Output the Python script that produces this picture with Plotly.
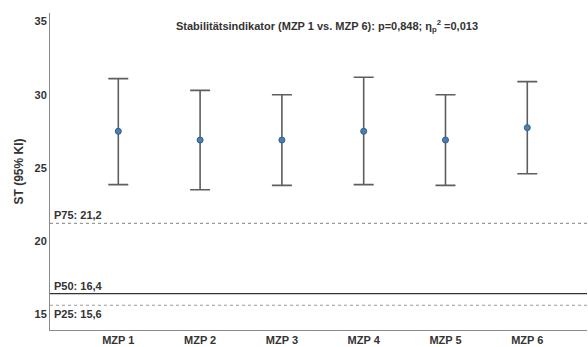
import plotly.graph_objects as go

categories = ["MZP 1", "MZP 2", "MZP 3", "MZP 4", "MZP 5", "MZP 6"]
means = [27.5, 26.9, 26.9, 27.5, 26.9, 27.75]
upper = [31.1, 30.3, 30.0, 31.2, 30.0, 30.9]
lower = [23.85, 23.5, 23.8, 23.85, 23.8, 24.6]

ref_labels = ["P75: 21,2", "P50: 16,4", "P25: 15,6"]
ref_values = [21.2, 16.4, 15.6]
ref_dash = ["dot", "solid", "dot"]
ref_color = ["#9a9a9a", "#333333", "#9a9a9a"]
ref_label_pos = ["above", "above", "below"]

title = "Stabilitätsindikator (MZP 1 vs. MZP 6): p=0,848; η<sub>p</sub><sup>2</sup> =0,013"
y_ticks = [15, 20, 25, 30, 35]

err_plus = [u - m for u, m in zip(upper, means)]
err_minus = [m - l for m, l in zip(means, lower)]

font = "Liberation Sans, Arial, sans-serif"

fig = go.Figure()
fig.add_trace(go.Scatter(
    x=list(range(len(categories))), y=means, mode="markers",
    marker=dict(size=6, color="#4a7fb5", line=dict(color="#2f5d8a", width=1)),
    error_y=dict(type="data", symmetric=False, array=err_plus, arrayminus=err_minus,
                 color="#5e5e5e", thickness=1.6, width=10),
    showlegend=False,
))

for lab, v, d, c, pos in zip(ref_labels, ref_values, ref_dash, ref_color, ref_label_pos):
    fig.add_shape(type="line", xref="paper", x0=0, x1=1, yref="y", y0=v, y1=v,
                  line=dict(color=c, width=1.2 if d == "solid" else 1.1, dash=d))
    fig.add_annotation(xref="paper", x=0, xanchor="left", xshift=2, yref="y", y=v,
                       yanchor="bottom" if pos == "above" else "top",
                       yshift=0 if pos == "above" else -1,
                       text=f"<b>{lab}</b>", showarrow=False,
                       font=dict(family=font, size=11, color="#333333"))

fig.add_annotation(xref="paper", x=0.515, xanchor="center", yref="paper", y=0.96,
                   yanchor="middle", text=f"<b>{title}</b>", showarrow=False,
                   font=dict(family=font, size=11, color="#333333"))

fig.update_layout(
    width=588, height=347,
    margin=dict(l=50, r=1, t=13, b=15),
    plot_bgcolor="white", paper_bgcolor="white",
    font=dict(family=font, size=11, color="#333333"),
    xaxis=dict(range=[-0.835, 5.73], tickvals=list(range(len(categories))),
               ticktext=[f"<b>{c}</b>" for c in categories],
               showgrid=False, zeroline=False, showline=True, linecolor="#8a8a8a",
               linewidth=1, ticks="", ticklen=0, tickfont=dict(size=11, color="#333333")),
    yaxis=dict(range=[13.91, 35.59], tickvals=y_ticks,
               ticktext=[f"<b>{t}</b>" for t in y_ticks],
               showgrid=False, zeroline=False, showline=True, linecolor="#8a8a8a",
               linewidth=1, ticks="", ticklen=0, tickfont=dict(size=11, color="#333333"),
               title=dict(text="<b>ST (95% KI)</b>", font=dict(size=12, color="#333333"),
                          standoff=8)),
)

fig.write_html("out.html")
